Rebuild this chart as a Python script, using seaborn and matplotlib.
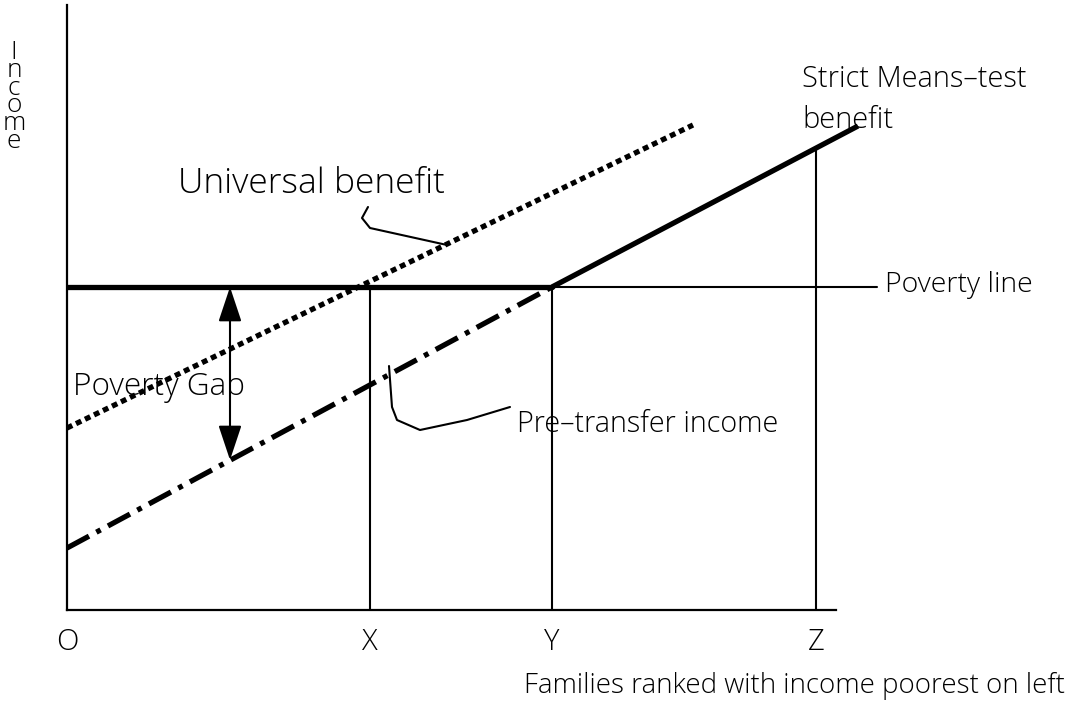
import matplotlib
matplotlib.use("Agg")
import matplotlib.pyplot as plt
import seaborn as sns
import numpy as np

# ---- data (diagram units, origin at the axis corner) ----
pos_labels = ["O", "X", "Y", "Z"]
pos_x = [0, 303, 485, 749]          # 0, X, Y, Z
poverty_level = 323

poverty_thick_x = [0, 485]
poverty_thin_x = [485, 810]

pretransfer_x = [0, 485]
pretransfer_y = [62, 323]

strict_x = [485, 791]
strict_y = [323, 484]

universal_x = [0, 626]
universal_y = [182, 485]

vline_tops = [323, 323, 462]        # heights of verticals at X, Y, Z

gap_x = 163
gap_y = [323, 150]

leader_univ_x = [301, 295, 303, 380]
leader_univ_y = [403, 392, 382, 365]
leader_pre_x = [322, 325, 330, 353, 400, 443]
leader_pre_y = [244, 203, 190, 180, 190, 203]

sns.set_theme(style="white")
plt.rcParams["font.family"] = ["Open Sans", "DejaVu Sans"]
plt.rcParams["font.weight"] = "light"
plt.rcParams["lines.scale_dashes"] = False

W, H = 1076, 701
fig = plt.figure(figsize=(W / 100, H / 100), dpi=100)
L, R, T, B = 67, 836, 5, 610
ax = fig.add_axes([L / W, (H - B) / H, (R - L) / W, (B - T) / H])
ax.set_xlim(0, R - L)
ax.set_ylim(0, B - T)
for s in ["top", "right"]:
    ax.spines[s].set_visible(False)
for s in ["left", "bottom"]:
    ax.spines[s].set_color("black")
    ax.spines[s].set_linewidth(1.6)
ax.set_yticks([])

kw = dict(ax=ax, color="black", estimator=None, sort=False, legend=False)

# vertical guide lines at X, Y, Z
for xv, top in zip(pos_x[1:], vline_tops):
    sns.lineplot(x=[xv, xv], y=[0, top], lw=1.5, **kw)

# poverty line
sns.lineplot(x=poverty_thick_x, y=[poverty_level] * 2, lw=3.8, **kw)
ln = sns.lineplot(x=poverty_thin_x, y=[poverty_level] * 2, lw=1.5, **kw).lines[-1]
ln.set_clip_on(False)

# pre-transfer income (dash-dot)
ln = sns.lineplot(x=pretransfer_x, y=pretransfer_y, lw=3.8, **kw).lines[-1]
ln.set_dashes([18, 6, 3.5, 6])
ln.set_dash_capstyle("butt")

# strict means-test benefit
ln = sns.lineplot(x=strict_x, y=strict_y, lw=3.8, **kw).lines[-1]
ln.set_clip_on(False)
ln.set_solid_capstyle("butt")

# universal benefit (dotted)
ln = sns.lineplot(x=universal_x, y=universal_y, lw=3.8, **kw).lines[-1]
ln.set_dashes([4.2, 3.0])
ln.set_dash_capstyle("butt")

# leader curves
sns.lineplot(x=leader_univ_x, y=leader_univ_y, lw=1.5, **kw)
sns.lineplot(x=leader_pre_x, y=leader_pre_y, lw=1.5, **kw)

# poverty gap arrow
ax.annotate("", xy=(gap_x, gap_y[0]), xytext=(gap_x, gap_y[1]),
            arrowprops=dict(arrowstyle="<|-|>,head_length=1.8,head_width=0.6",
                            color="black", lw=1.5, shrinkA=0, shrinkB=0))

# labels: (text, left px, baseline px, target width px)
label_specs = [
    ("Universal benefit", 178, 193, 268),
    ("Strict Means\u2013test", 802, 87, 225),
    ("benefit", 802, 128, None),
    ("Poverty line", 885, 292, 148),
    ("Poverty Gap", 73, 395, 172),
    ("Pre\u2013transfer income", 517, 432, 262),
    ("Families ranked with income poorest on left", 524, 693, 540),
]
renderer = fig.canvas.get_renderer()
texts = []
for txt, lx, by, tw in label_specs:
    t = ax.text(lx - L, B - by, txt, ha="left", va="baseline", color="black",
                fontsize=20, clip_on=False)
    if tw is not None:
        w = t.get_window_extent(renderer).width
        t.set_fontsize(20 * tw / w)
    texts.append(t)
texts[2].set_fontsize(texts[1].get_fontsize())

ax.text(14 - L, B - 40, "I\nn\nc\no\nm\ne", ha="center", va="top", linespacing=0.62,
        color="black", fontsize=19, clip_on=False)

ax.set_xticks(pos_x, pos_labels)
ax.tick_params(axis="x", length=0, pad=23.5, labelsize=21, labelcolor="black")
for lab in ax.get_xticklabels():
    lab.set_verticalalignment("center")

fig.savefig("out.png", dpi=100)
